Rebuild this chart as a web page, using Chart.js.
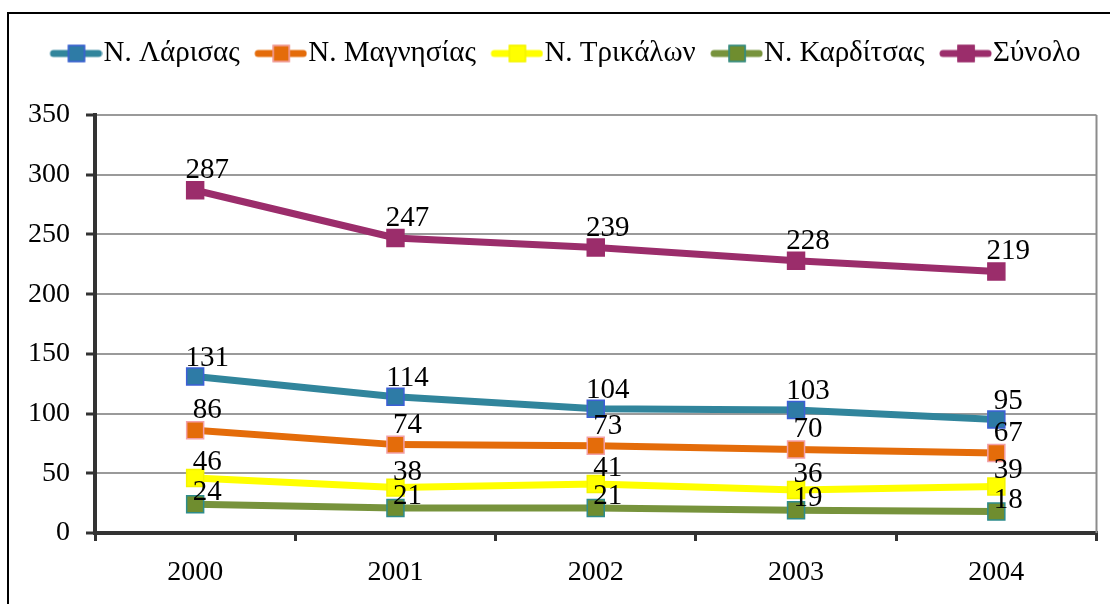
<!DOCTYPE html>
<html>
<head>
<meta charset="utf-8">
<script src="https://cdn.jsdelivr.net/npm/chart.js@4"></script>
<style>
  html, body { margin: 0; padding: 0; background: #fff; }
  #frame { position: absolute; left: 7px; top: 12px; width: 1300px; height: 800px;
           border-left: 2px solid #000; border-top: 2px solid #000; }
  #wrap { position: absolute; left: 0; top: 0; width: 1110px; height: 604px; }
</style>
</head>
<body>
<div id="frame"></div>
<div id="wrap"><canvas id="c" width="1110" height="604"></canvas></div>
<script>
// ---- data ----
const years = ['2000', '2001', '2002', '2003', '2004'];
const seriesNames = ['Ν. Λάρισας', 'Ν. Μαγνησίας', 'Ν. Τρικάλων', 'Ν. Καρδίτσας', 'Σύνολο'];
const larisa    = [131, 114, 104, 103, 95];
const magnisia  = [86, 74, 73, 70, 67];
const trikala   = [46, 38, 41, 36, 39];
const karditsa  = [24, 21, 21, 19, 18];
const synolo    = [287, 247, 239, 228, 219];
const yTicks    = [0, 50, 100, 150, 200, 250, 300, 350];

// ---- styles ----
const FONT = "'Liberation Serif', 'Times New Roman', serif";
const styles = [
  { line: '#31859C', fill: '#2E7BA6', border: '#3D5FD6', dy: -11 },
  { line: '#E46C0A', fill: '#E46C0A', border: '#F2A0A8', dy: -12 },
  { line: '#FFFF00', fill: '#FFFF00', border: '#F4F400', dy: -8 },
  { line: '#77933C', fill: '#6F8D2F', border: '#2E8C8C', dy: -4 },
  { line: '#9B2D6B', fill: '#9B2D6B', border: '#9B2D6B', dy: -12 }
];
const allSeries = [larisa, magnisia, trikala, karditsa, synolo];

function legendImage(s) {
  const c = document.createElement('canvas');
  c.width = 66; c.height = 24;
  const g = c.getContext('2d');
  g.strokeStyle = s.line; g.lineWidth = 7; g.lineCap = 'round';
  g.beginPath(); g.moveTo(17, 12); g.lineTo(62, 12); g.stroke();
  g.fillStyle = s.fill; g.fillRect(31.5, 3.5, 17, 17);
  g.strokeStyle = s.border; g.lineWidth = 1.5; g.strokeRect(32, 4, 16, 16);
  return c;
}
const legendImgs = styles.map(legendImage);

const datasets = allSeries.map((d, i) => ({
  label: seriesNames[i],
  data: d,
  borderColor: styles[i].line,
  backgroundColor: styles[i].fill,
  borderWidth: 7,
  pointStyle: 'rect',
  pointRadius: 12,
  pointHoverRadius: 12,
  pointBackgroundColor: styles[i].fill,
  pointBorderColor: styles[i].border,
  pointBorderWidth: 1.5,
  tension: 0,
  fill: false
}));

const valueLabels = {
  id: 'valueLabels',
  afterDatasetsDraw(chart) {
    const ctx = chart.ctx;
    ctx.save();
    ctx.font = "29px " + FONT;
    ctx.fillStyle = '#000';
    ctx.textAlign = 'center';
    ctx.textBaseline = 'alphabetic';
    chart.data.datasets.forEach((ds, i) => {
      const meta = chart.getDatasetMeta(i);
      meta.data.forEach((pt, j) => {
        ctx.fillText(String(ds.data[j]), pt.x + 12, pt.y + styles[i].dy);
      });
    });
    ctx.restore();
  }
};

const plotRightBorder = {
  id: 'plotRightBorder',
  beforeDatasetsDraw(chart) {
    const a = chart.chartArea, ctx = chart.ctx;
    ctx.save();
    ctx.strokeStyle = '#8c8c8c';
    ctx.lineWidth = 2;
    ctx.beginPath();
    ctx.moveTo(a.right, a.top);
    ctx.lineTo(a.right, a.bottom);
    ctx.stroke();
    ctx.restore();
  }
};

// shift the legend so that it starts where the reference legend starts
const legendShift = {
  id: 'legendShift',
  afterLayout(chart) {
    if (chart.legend) { chart.legend.left += 35; }
  }
};

new Chart(document.getElementById('c'), {
  type: 'line',
  data: { labels: years, datasets },
  plugins: [valueLabels, plotRightBorder, legendShift],
  options: {
    responsive: false,
    animation: false,
    events: [],
    layout: { padding: { left: 0, right: 8, top: 24, bottom: 0 } },
    plugins: {
      tooltip: { enabled: false },
      title: { display: false },
      subtitle: {
        display: true, text: ' ', weight: 500, position: 'top',
        font: { size: 10, lineHeight: 1 }, padding: { top: 27, bottom: 0 }
      },
      legend: {
        display: true,
        position: 'top',
        align: 'start',
        labels: {
          usePointStyle: true,
          pointStyleWidth: 39,
          padding: 15,
          color: '#000',
          font: { family: FONT, size: 29 },
          generateLabels: chart => chart.data.datasets.map((ds, i) => ({
            text: ds.label,
            pointStyle: legendImgs[i],
            datasetIndex: i,
            hidden: false,
            fillStyle: 'rgba(0,0,0,0)',
            strokeStyle: 'rgba(0,0,0,0)',
            lineWidth: 0,
            fontColor: '#000'
          }))
        }
      }
    },
    scales: {
      x: {
        offset: true,
        grid: {
          offset: true,
          drawOnChartArea: false,
          drawTicks: true,
          tickLength: 8,
          tickColor: '#333',
          tickWidth: 3,
          lineWidth: 3,
          color: '#333'
        },
        border: { display: true, color: '#333', width: 4 },
        ticks: { color: '#000', font: { family: FONT, size: 28 }, padding: 15, maxRotation: 0 },
        afterFit: s => { s.height = 71; }
      },
      y: {
        min: 0,
        max: 350,
        afterBuildTicks: s => { s.ticks = yTicks.map(v => ({ value: v })); },
        grid: {
          color: c => (c.tick && c.tick.value === 0) ? '#333' : '#9a9a9a',
          lineWidth: c => (c.tick && c.tick.value === 0) ? 4 : 2,
          tickColor: '#333',
          tickWidth: 3,
          tickLength: 9,
          drawTicks: true
        },
        border: { display: true, color: '#333', width: 4 },
        ticks: { color: '#000', font: { family: FONT, size: 28 }, padding: 16 },
        afterFit: s => { s.width = 95; }
      }
    }
  }
});
</script>
</body>
</html>
